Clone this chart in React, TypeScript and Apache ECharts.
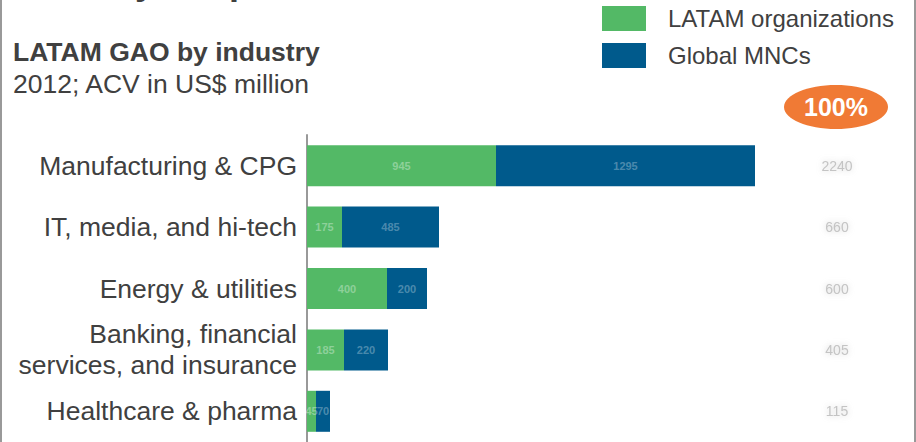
import React, { useEffect, useRef } from "react";
import * as echarts from "echarts";

const categories = [
  "Manufacturing & CPG",
  "IT, media, and hi-tech",
  "Energy & utilities",
  "Banking, financial\nservices, and insurance",
  "Healthcare & pharma",
];
const latamOrgs = [945, 175, 400, 185, 45];
const globalMNCs = [1295, 485, 200, 220, 70];
const totals = latamOrgs.map((v, i) => v + globalMNCs[i]);

const GREEN = "#53B966";
const BLUE = "#005A8C";
const TEXT = "#404040";

export default function App() {
  const ref = useRef<HTMLDivElement>(null);
  useEffect(() => {
    const chart = echarts.init(ref.current!, null, { renderer: "svg" });
    const font = "'Liberation Sans', Arial, sans-serif";
    chart.setOption({
      animation: false,
      textStyle: { fontFamily: font },
      title: {
        left: 13,
        top: 38,
        text: "LATAM GAO by industry",
        subtext: "2012; ACV in US$ million",
        itemGap: 5,
        padding: 0,
        textStyle: { fontSize: 26.5, fontWeight: "bold", color: TEXT, fontFamily: font },
        subtextStyle: { fontSize: 26.5, color: TEXT, fontFamily: font },
      },
      legend: {
        orient: "vertical",
        left: 602,
        top: 6,
        padding: 0,
        itemWidth: 44,
        itemHeight: 25,
        itemGap: 12,
        icon: "rect",
        textStyle: { fontSize: 24, color: TEXT, padding: [0, 0, 0, 17], fontFamily: font },
        data: ["LATAM organizations", "Global MNCs"],
      },
      grid: { left: 307, right: 109, top: 135, height: 310, containLabel: false },
      xAxis: {
        type: "value",
        min: 0,
        max: 2500,
        show: false,
      },
      yAxis: [
        {
          type: "category",
          data: categories,
          inverse: true,
          axisLine: { show: true, lineStyle: { color: "#999", width: 2 } },
          axisTick: { show: false },
          axisLabel: {
            fontSize: 26.5,
            color: TEXT,
            margin: 10,
            lineHeight: 31,
            align: "right",
            fontFamily: font,
          },
        },
        {
          type: "category",
          data: totals.map(String),
          inverse: true,
          position: "right",
          axisLine: { show: false },
          axisTick: { show: false },
          axisLabel: {
            fontSize: 14,
            color: "#c4c4c4",
            margin: 30,
            align: "center",
            textShadowColor: "#d0d0d0",
            textShadowBlur: 6,
            fontFamily: font,
          },
        },
      ],
      series: [
        {
          name: "LATAM organizations",
          type: "bar",
          stack: "total",
          data: latamOrgs,
          barWidth: 41,
          itemStyle: { color: GREEN },
          label: {
            show: true,
            position: "inside",
            color: "rgba(255,255,255,0.35)",
            fontSize: 11,
            fontWeight: "bold",
          },
        },
        {
          name: "Global MNCs",
          type: "bar",
          stack: "total",
          data: globalMNCs,
          barWidth: 41,
          itemStyle: { color: BLUE },
          label: {
            show: true,
            position: "inside",
            color: "rgba(255,255,255,0.3)",
            fontSize: 11,
            fontWeight: "bold",
          },
        },
      ],
      graphic: [
        {
          type: "text",
          left: 13,
          top: -37,
          style: { text: "Industry adoption", font: `bold 36px ${font}`, fill: TEXT },
        },
        { type: "line", shape: { x1: 1, y1: 0, x2: 1, y2: 442 }, style: { stroke: "#999", lineWidth: 2 } },
        { type: "line", shape: { x1: 915, y1: 0, x2: 915, y2: 442 }, style: { stroke: "#999", lineWidth: 2 } },
        {
          type: "ellipse",
          shape: { cx: 836, cy: 107, rx: 52, ry: 22 },
          style: { fill: "#F07A35" },
        },
        {
          type: "text",
          x: 836,
          y: 107,
          style: {
            text: "100%",
            font: `bold 25px ${font}`,
            fill: "#fff",
            align: "center",
            verticalAlign: "middle",
          },
        },
      ],
    });
    return () => chart.dispose();
  }, []);
  return (
    <div
      ref={ref}
      style={{ position: "fixed", left: 0, top: 0, width: 916, height: 442, background: "#fff" }}
    />
  );
}
